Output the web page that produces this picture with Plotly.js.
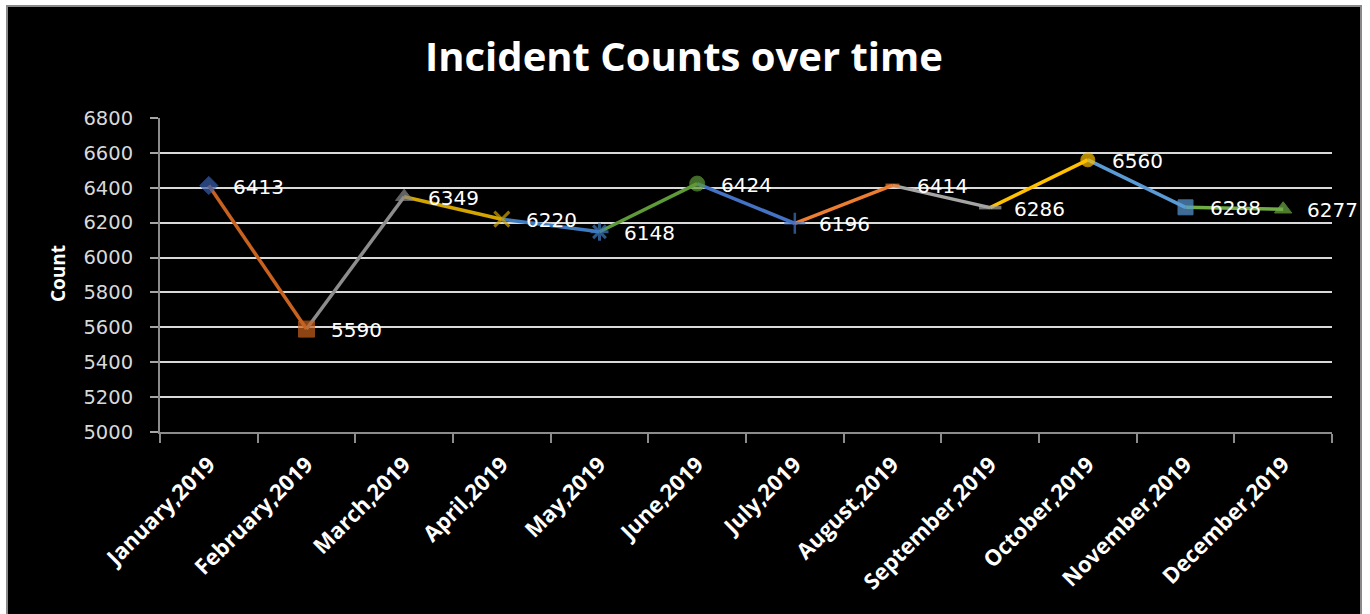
<!DOCTYPE html>
<html>
<head>
<meta charset="utf-8">
<script src="https://cdn.plot.ly/plotly-3.0.1.min.js"></script>
<style>
  html, body { margin: 0; padding: 0; background: #ffffff; width: 1370px; height: 614px; overflow: hidden; }
  #wrap { position: absolute; left: 6px; top: 5px; width: 1356px; height: 620px; border: 2px solid #8a8a8a; box-sizing: border-box; background: #000; overflow: hidden; }
  #chart { width: 1352px; height: 616px; }
</style>
</head>
<body>
<div id="wrap"><div id="chart"></div></div>
<script>
// ---- data ----
const months = ["January,2019", "February,2019", "March,2019", "April,2019", "May,2019", "June,2019",
                "July,2019", "August,2019", "September,2019", "October,2019", "November,2019", "December,2019"];
const counts = [6413, 5590, 6349, 6220, 6148, 6424, 6196, 6414, 6286, 6560, 6288, 6277];
const yTicks = [5000, 5200, 5400, 5600, 5800, 6000, 6200, 6400, 6600, 6800];

// ---- styles (per point, Excel "vary colors by point") ----
const pointColors = ["#3A5FAE", "#C9621F", "#8C8C8C", "#D2A500", "#3F7BBF", "#5E9A38",
                     "#4472C4", "#ED7D31", "#A5A5A5", "#FFC000", "#5B9BD5", "#70AD47"];
const pointSymbols = ["diamond", "square", "triangle-up", "x-thin-open", "asterisk-open", "circle",
                      "cross-thin-open", "line-ew-open", "line-ew-open", "circle", "square", "triangle-up"];
const pointSizes = [14, 16, 15, 15, 15, 15, 15, 10, 16, 14, 15, 15];
const pointLineW = [1, 1, 1, 3, 3, 1, 2.5, 3.5, 3.5, 1, 1, 1];

const traces = [];
for (let i = 1; i < months.length; i++) {
  traces.push({
    type: "scatter", mode: "lines",
    x: [months[i - 1], months[i]], y: [counts[i - 1], counts[i]],
    line: { color: pointColors[i], width: 3.5 },
    hoverinfo: "skip", showlegend: false, cliponaxis: false
  });
}
traces.push({
  type: "scatter", mode: "markers",
  x: months, y: counts,
  marker: { symbol: pointSymbols, color: pointColors, size: pointSizes,
            line: { color: pointColors, width: pointLineW } },
  showlegend: false, cliponaxis: false
});

const annotations = months.map((m, i) => ({
  x: m, y: counts[i], xref: "x", yref: "y",
  text: String(counts[i]), showarrow: false,
  xanchor: "left", yanchor: "middle", xshift: 22, yshift: -1,
  font: { family: "DejaVu Sans", size: 20, color: "#ffffff" }
}));
annotations.push({
  xref: "paper", yref: "paper", x: -0.087, y: 0.503,
  text: "<b>Count</b>", textangle: -90, showarrow: false,
  xanchor: "center", yanchor: "middle",
  font: { family: "Open Sans", size: 19, color: "#ffffff" }
});

const layout = {
  width: 1352, height: 616,
  paper_bgcolor: "#000000", plot_bgcolor: "#000000",
  margin: { l: 152, r: 28, t: 111, b: 191 },
  title: {
    text: "<b>Incident Counts over time</b>",
    x: 0.5, xref: "container", xanchor: "center",
    y: 0.919, yref: "container", yanchor: "middle",
    font: { family: "Open Sans", size: 40, color: "#ffffff" }
  },
  xaxis: {
    type: "category", categoryarray: months, categoryorder: "array",
    range: [-0.5, 11.5],
    tickson: "boundaries", ticks: "outside", ticklen: 9, tickwidth: 2, tickcolor: "#8c8c8c",
    showline: true, linecolor: "#8c8c8c", linewidth: 2,
    showgrid: false, zeroline: false,
    tickangle: -45, ticklabelstandoff: 9,
    tickfont: { family: "Open Sans", size: 22, color: "#ffffff", weight: "bold" }
  },
  yaxis: {
    range: [5000, 6800], tickvals: yTicks, ticktext: yTicks.map(String),
    ticks: "outside", ticklen: 8, tickwidth: 2, tickcolor: "#a6a6a6",
    showline: true, linecolor: "#8c8c8c", linewidth: 2,
    showgrid: true, gridcolor: "#d9d9d9", gridwidth: 2, zeroline: false,
    ticklabelstandoff: 13,
    tickfont: { family: "DejaVu Sans", size: 19.5, color: "#d9d9d9" }
  },
  annotations: annotations,
  hovermode: false
};

Plotly.newPlot("chart", traces, layout, { displayModeBar: false, staticPlot: true });
</script>
</body>
</html>
